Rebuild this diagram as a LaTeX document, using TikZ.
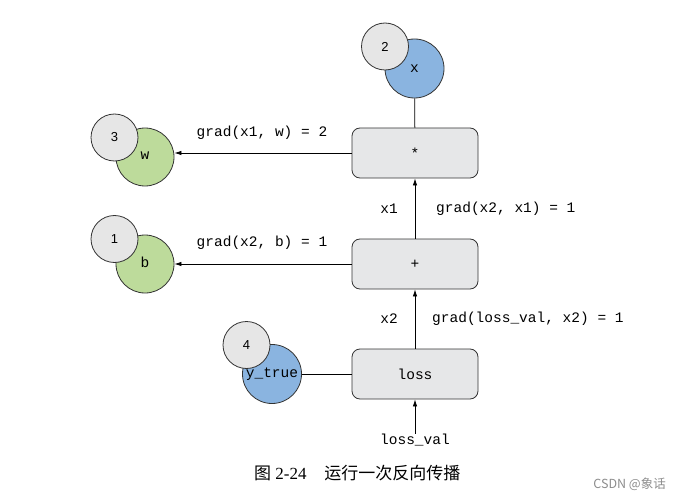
\documentclass[tikz,border=0pt]{standalone}
\usepackage{fontspec}
\setmainfont{Liberation Serif}
\setsansfont{Liberation Sans}
\setmonofont{Liberation Mono}
\newfontfamily\cjk{Noto Sans CJK SC}
\usetikzlibrary{arrows.meta}

\definecolor{boxgray}{HTML}{E6E7E8}
\definecolor{numgray}{HTML}{E6E6E6}
\definecolor{varblue}{HTML}{8AB4E0}
\definecolor{wgreen}{HTML}{BDDB9B}
\definecolor{edgegray}{HTML}{333333}

\tikzset{
  opbox/.style={rectangle,rounded corners=8pt,draw=edgegray,line width=0.8pt,fill=boxgray,
    minimum width=126pt,minimum height=50pt,inner sep=0pt,font=\fontsize{14.5}{16}\ttfamily},
  varnode/.style={circle,draw=edgegray,line width=0.8pt,minimum size=59pt,inner sep=0pt,
    font=\fontsize{14.5}{16}\ttfamily},
  numnode/.style={circle,draw=edgegray,line width=0.8pt,fill=numgray,minimum size=47pt,
    inner sep=0pt,font=\fontsize{13}{15}\sffamily},
  lbl/.style={inner sep=0pt,font=\fontsize{14.5}{16}\ttfamily},
  back/.style={-{Latex[length=7pt,width=4.5pt]},line width=0.8pt},
}

\begin{document}
\begin{tikzpicture}[x=1pt,y=-1pt]
   \useasboundingbox (0,0) rectangle (680,500);
   % operations
   \node (mul)  at (415,153) [opbox] {*};
   \node (add)  at (415,264) [opbox] {+};
   \node (loss) at (415,374) [opbox] {loss};
   % variables
   \node (x)     at (414.5,68.5) [varnode,fill=varblue] {x};
   \node (w)     at (145,157)    [varnode,fill=wgreen,minimum size=58pt] {\raisebox{3pt}{w}};
   \node (b)     at (145,264)    [varnode,fill=wgreen,minimum size=58pt] {\raisebox{3pt}{b}};
   \node (ytrue) at (272,374)    [varnode,fill=varblue] {y\_true};
   % step numbers
   \node (num2) at (385,46.5)  [numnode] {2};
   \node (num3) at (114.5,137.5) [numnode] {3};
   \node (num1) at (114.5,239) [numnode] {1};
   \node (num4) at (246.5,345) [numnode] {4};
   \node (lossval) at (415,440) [lbl] {loss\_val};
   % connections
   \draw[line width=0.8pt] (x) to (mul);
   \draw[line width=0.8pt] (ytrue) to (loss);
   \draw[back] (lossval.north) to (loss);
   \draw[back] (loss) to (add);
   \draw[back] (add) to (mul);
   \draw[back] (mul) to (w.east |- mul);
   \draw[back] (add) to (b.east |- add);
   % gradients
   \node (gw)  at (262,133) [lbl] {grad(x1, w) = 2};
   \node (gb)  at (262,243) [lbl] {grad(x2, b) = 1};
   \node (lx1) at (389,209) [lbl] {x1};
   \node (gx1) at (436,209) [lbl,anchor=west] {grad(x2, x1) = 1};
   \node (lx2) at (389,319) [lbl] {x2};
   \node (gx2) at (432,319) [lbl,anchor=west] {grad(loss\_val, x2) = 1};
   % caption
   \node (cap) at (254,473) [anchor=west,inner sep=0pt,font=\fontsize{17}{19}\selectfont]
      {{\cjk 图}\ 2-24\hspace{1.05em}{\cjk 运行一次反向传播}};
   \node (mark) at (666,484) [anchor=east,inner sep=0pt,text=black!45,
      font=\fontsize{12.5}{14}\cjk] {CSDN @象话};
\end{tikzpicture}
\end{document}
